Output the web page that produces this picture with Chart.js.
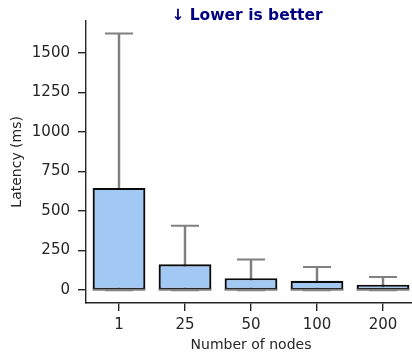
<!DOCTYPE html>
<html>
<head>
<meta charset="utf-8">
<script src="https://cdn.jsdelivr.net/npm/chart.js@4.4.1/dist/chart.umd.min.js"></script>
<style>
  html, body { margin: 0; padding: 0; background: #ffffff; }
  #wrap { width: 412px; height: 358px; overflow: hidden; position: relative; }
  #box { width: 416px; height: 358px; position: absolute; left: 0; top: 0; }
</style>
</head>
<body>
<div id="wrap"><div id="box"><canvas id="c"></canvas></div></div>
<script>
// Latency distribution per cluster size (ms)
const categories = ['1', '25', '50', '100', '200'];
const mins    = [0, 0, 0, 0, 0];
const q1      = [2, 1, 1, 1, 1];
const medians = [3, 2, 2, 2, 2];
const q3      = [646, 164, 76, 59, 35];
const maxs    = [1621, 407, 193, 147, 84];
const yTicks  = [0, 250, 500, 750, 1000, 1250, 1500];

const INK = '#262626';
const WHISKER = '#808080';
const FONT = "'DejaVu Sans', sans-serif";

// Heading above the plot area
const headingPlugin = {
  id: 'heading',
  afterDraw(chart) {
    const { ctx, chartArea } = chart;
    ctx.save();
    ctx.font = "bold 15.5px " + FONT;
    ctx.fillStyle = '#000080';
    ctx.textAlign = 'center';
    ctx.textBaseline = 'middle';
    ctx.fillText('\u2193 Lower is better', (chartArea.left + chartArea.right) / 2 - 4, 16);
    ctx.restore();
  }
};

new Chart(document.getElementById('c'), {
  data: {
    labels: categories,
    datasets: [
      { // medians
        type: 'line', order: 1, data: medians, showLine: false,
        pointStyle: 'line', pointRadius: 26.4, pointHoverRadius: 26.4,
        pointBorderColor: WHISKER, pointBorderWidth: 2, borderColor: WHISKER
      },
      { // upper caps
        type: 'line', order: 1, data: maxs, showLine: false,
        pointStyle: 'line', pointRadius: 14, pointHoverRadius: 14,
        pointBorderColor: WHISKER, pointBorderWidth: 2, borderColor: WHISKER
      },
      { // lower caps
        type: 'line', order: 1, data: mins, showLine: false,
        pointStyle: 'line', pointRadius: 14, pointHoverRadius: 14,
        pointBorderColor: WHISKER, pointBorderWidth: 2, borderColor: WHISKER
      },
      { // boxes: first to third quartile
        type: 'bar', order: 2, grouped: false,
        data: q1.map((v, i) => [v, q3[i]]),
        backgroundColor: '#a1c9f4', borderColor: '#0a0a0a', borderWidth: 2.2,
        borderSkipped: false, barPercentage: 0.8, categoryPercentage: 1
      },
      { // whiskers
        type: 'bar', order: 3, grouped: false,
        data: mins.map((v, i) => [v, maxs[i]]),
        backgroundColor: WHISKER, barThickness: 1.8, borderWidth: 0
      }
    ]
  },
  options: {
    responsive: true,
    maintainAspectRatio: false,
    animation: false,
    events: [],
    layout: { autoPadding: false, padding: { top: 20.7, left: 0, right: 0, bottom: 0 } },
    plugins: { legend: { display: false }, tooltip: { enabled: false }, title: { display: false } },
    scales: {
      x: {
        type: 'category',
        offset: true,
        grid: { display: true, offset: false, drawOnChartArea: false, drawTicks: true, tickLength: 8, color: INK, lineWidth: 1.4 },
        border: { display: true, color: INK, width: 1.4 },
        ticks: { font: { family: FONT, size: 15 }, color: INK, padding: 5 },
        title: { display: true, text: 'Number of nodes', font: { family: FONT, size: 14 }, color: INK, padding: { top: 0, bottom: 4.4 } },
        afterFit(scale) { scale.height = 55; }
      },
      y: {
        min: -81,
        max: 1702,
        grid: { display: true, drawOnChartArea: false, drawTicks: true, tickLength: 8, color: INK, lineWidth: 1.4 },
        border: { display: true, color: INK, width: 1.4 },
        ticks: { font: { family: FONT, size: 15 }, color: INK, padding: 8, callback: v => String(v) },
        afterBuildTicks(scale) { scale.ticks = yTicks.map(v => ({ value: v })); },
        title: { display: true, text: 'Latency (ms)', font: { family: FONT, size: 14 }, color: INK, padding: { top: 9, bottom: 0 } },
        afterFit(scale) { scale.width = 86; }
      }
    }
  },
  plugins: [headingPlugin]
});
</script>
</body>
</html>
